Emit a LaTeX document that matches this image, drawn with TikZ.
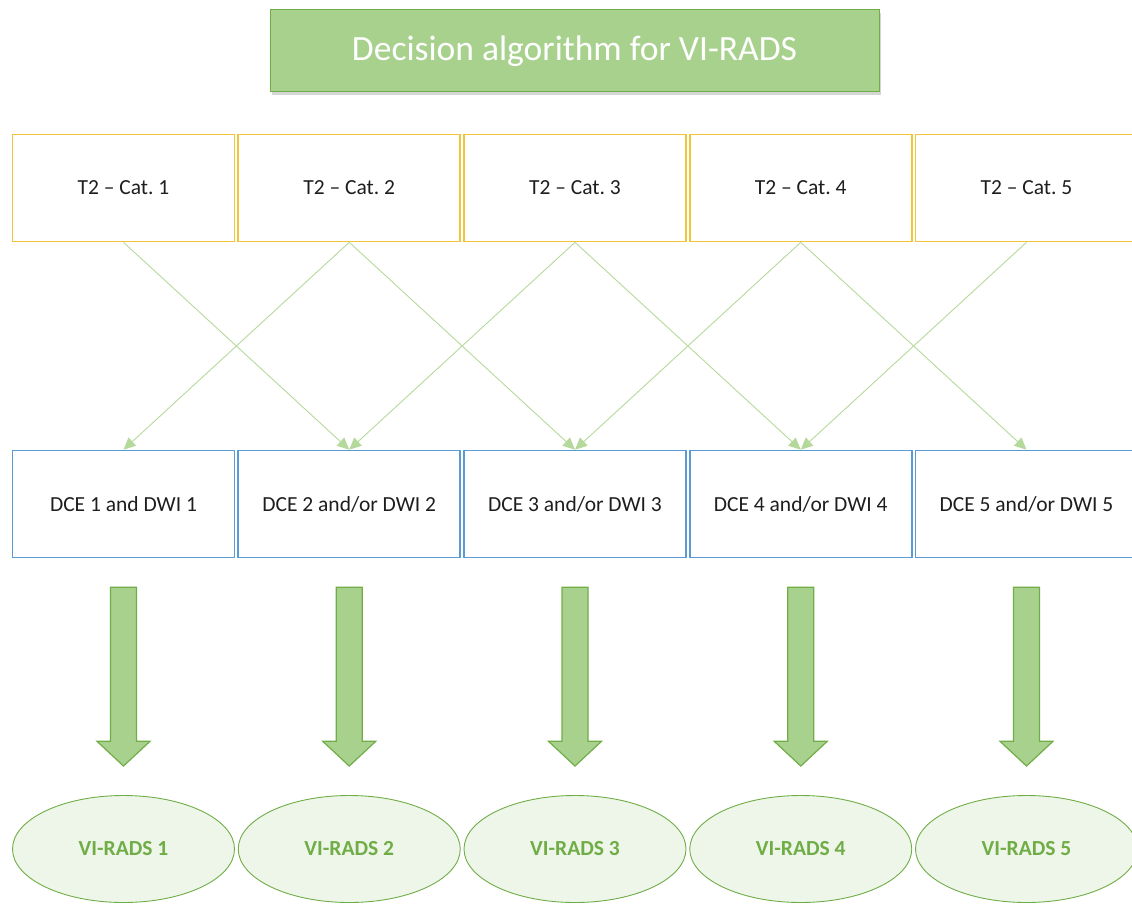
\documentclass[tikz,border=0pt]{standalone}
\usepackage{fontspec}
\setmainfont{Carlito}
\usetikzlibrary{arrows.meta,calc,shadows,shapes.geometric}

\definecolor{grfill}{HTML}{A9D18E}
\definecolor{grline}{HTML}{70AD47}
\definecolor{grpale}{HTML}{EEF6E9}
\definecolor{goldline}{HTML}{F2C43C}
\definecolor{blueline}{HTML}{5B9BD5}
\definecolor{thinarrow}{HTML}{B5D99C}
\definecolor{txt}{HTML}{1E1E1E}

\tikzset{
  titlebox/.style={draw=grline, line width=1pt, fill=grfill,
    minimum width=609pt, minimum height=82pt, inner sep=0pt,
    text=white, font=\fontsize{35.5}{40}\selectfont,
    drop shadow={shadow xshift=1.5pt, shadow yshift=-3pt, opacity=0.3, fill=black!55}},
  t2box/.style={draw=goldline, line width=1.6pt, fill=white,
    minimum width=222pt, minimum height=107pt, inner sep=0pt,
    text=txt, font=\fontsize{21.5}{25}\selectfont},
  dcebox/.style={draw=blueline, line width=1.6pt, fill=white,
    minimum width=222pt, minimum height=107pt, inner sep=0pt,
    text=txt, font=\fontsize{21.5}{25}\selectfont},
  radsell/.style={ellipse, draw=grline, line width=0.9pt, fill=grpale,
    minimum width=222pt, minimum height=107pt, inner sep=0pt,
    text=grline, font=\fontsize{21.5}{25}\selectfont\bfseries},
  link/.style={draw=thinarrow, line width=0.9pt,
    -{Triangle[length=12pt,width=11pt,fill=thinarrow]}},
  bigarrow/.style={draw=grline, line width=1.2pt, fill=grfill, line join=miter},
}

\begin{document}
\begin{tikzpicture}[x=1pt,y=-1pt]
  \useasboundingbox (0,0) rectangle (1132,904);
  \clip (0,0) rectangle (1132,904);

  % title
  \node[titlebox] (title) at (574.5,51) {Decision algorithm for VI-RADS};

  % rows of boxes and result ellipses
  \foreach \i/\x/\dce in {1/123.5/{DCE 1 and DWI 1},
                          2/349.25/{DCE 2 and/or DWI 2},
                          3/575/{DCE 3 and/or DWI 3},
                          4/800.75/{DCE 4 and/or DWI 4},
                          5/1026.5/{DCE 5 and/or DWI 5}} {
    \node[t2box]   (t\i) at (\x,188) {T2 -- Cat.\ \i};
    \node[dcebox]  (d\i) at (\x,504) {\dce};
    \node[radsell] (v\i) at (\x,849) {VI-RADS \i};
  }

  % T2 category to neighbouring DCE/DWI boxes
  \draw[link] (t1.south) -- (d2.north);
  \draw[link] (t2.south) -- (d1.north);
  \draw[link] (t2.south) -- (d3.north);
  \draw[link] (t3.south) -- (d2.north);
  \draw[link] (t3.south) -- (d4.north);
  \draw[link] (t4.south) -- (d3.north);
  \draw[link] (t4.south) -- (d5.north);
  \draw[link] (t5.south) -- (d4.north);

  % block arrows from DCE/DWI boxes to the VI-RADS scores
  \foreach \i in {1,...,5} {
    \draw[bigarrow]
      ($(d\i.south)+(-13,29)$) -- ($(d\i.south)+(13,29)$) --
      ($(d\i.south)+(13,183)$) -- ($(d\i.south)+(26.5,183)$) --
      ($(v\i.north)+(0,-29)$) --
      ($(d\i.south)+(-26.5,183)$) -- ($(d\i.south)+(-13,183)$) -- cycle;
  }
\end{tikzpicture}
\end{document}
